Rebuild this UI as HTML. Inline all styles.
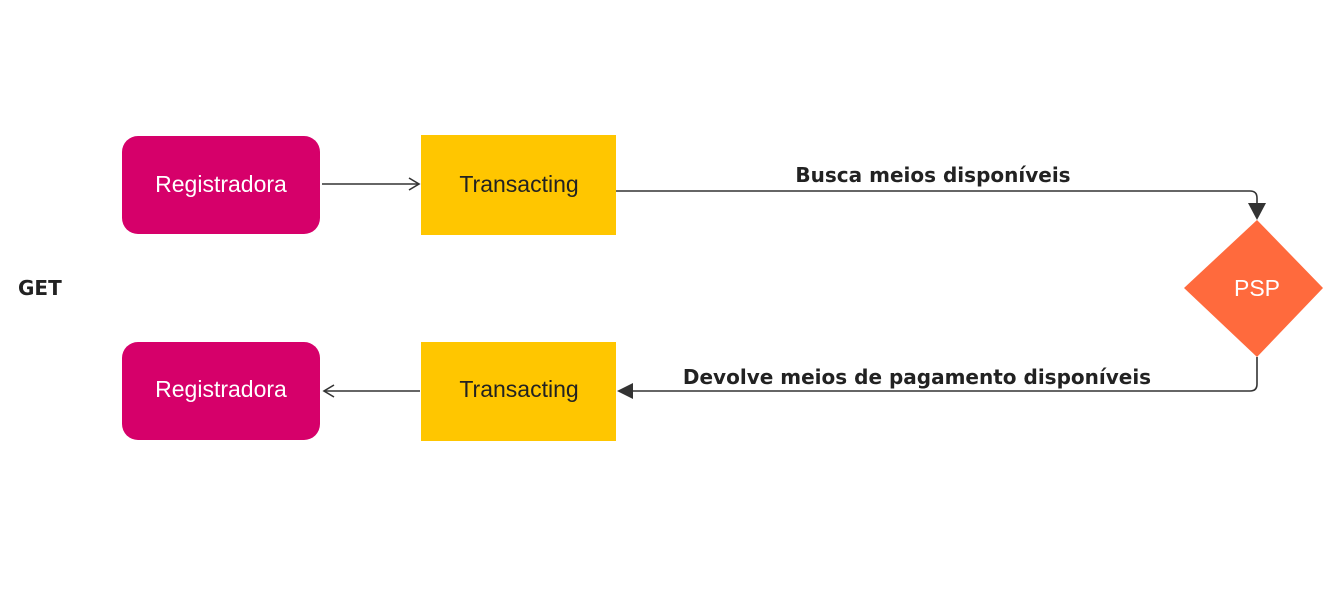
<!DOCTYPE html>
<html><head><style>
body{margin:0;width:1338px;height:606px;background:#fff;overflow:hidden;font-family:"Liberation Sans",sans-serif}
</style></head><body>
<svg width="1338" height="606" xmlns="http://www.w3.org/2000/svg">
<rect x="122" y="136" width="198" height="98" rx="16" fill="#d6006a"/>
<rect x="122" y="342" width="198" height="98" rx="16" fill="#d6006a"/>
<rect x="421" y="135" width="195" height="100" fill="#ffc600"/>
<rect x="421" y="342" width="195" height="99" fill="#ffc600"/>
<polygon points="1257,220 1323,288 1257,357 1184,288" fill="#ff6a3d"/>
<g fill="none" stroke="#333" stroke-width="1.6">
<line x1="322" y1="184" x2="419" y2="184"/>
<polyline points="409,178 419,184 409,190"/>
<path d="M616 191 H1250 Q1257 191 1257 198 V205"/>
<path d="M1257 357 V384 Q1257 391 1250 391 H632"/>
<line x1="420" y1="391" x2="324" y2="391"/>
<polyline points="334,385 324,391 334,397"/>
</g>
<polygon points="1248,203 1266,203 1257,220" fill="#333"/>
<polygon points="617,391 633,383 633,399" fill="#333"/>
<g font-size="23" text-anchor="middle">
<text x="221" y="192" fill="#fff">Registradora</text>
<text x="221" y="397" fill="#fff">Registradora</text>
<text x="519" y="192" fill="#222">Transacting</text>
<text x="519" y="397" fill="#222">Transacting</text>
<text x="1257" y="296" fill="#fff">PSP</text>
</g>
<g font-family="'DejaVu Sans',sans-serif" font-weight="bold" font-size="20" fill="#222">
<text x="933" y="182" text-anchor="middle">Busca meios disponíveis</text>
<text x="917" y="384" text-anchor="middle">Devolve meios de pagamento disponíveis</text>
<text x="18" y="295">GET</text>
</g>
</svg>
</body></html>
